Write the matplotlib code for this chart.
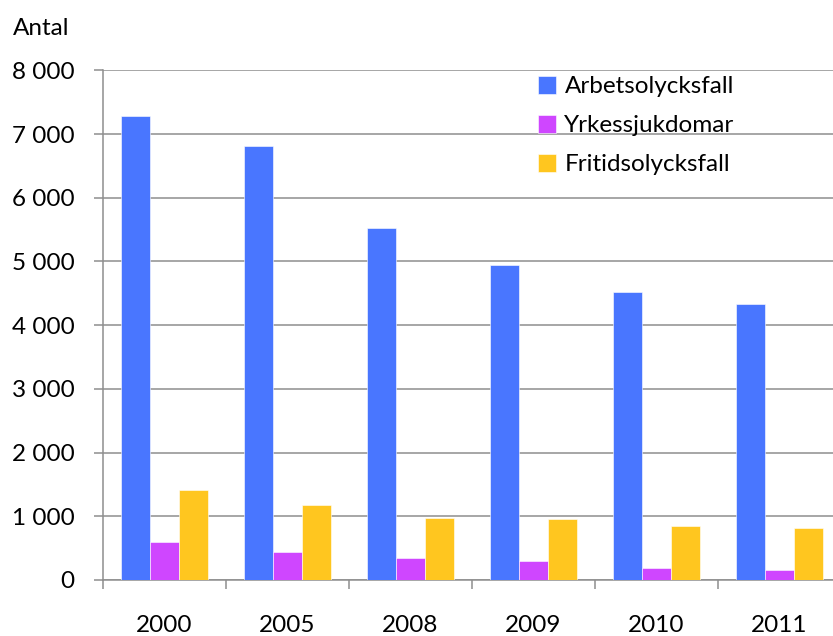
import numpy as np
import matplotlib
matplotlib.use("Agg")
import matplotlib.pyplot as plt
from matplotlib.ticker import FuncFormatter

# data
years = ["2000", "2005", "2008", "2009", "2010", "2011"]
arbetsolycksfall = [7280, 6810, 5520, 4940, 4520, 4330]
yrkessjukdomar = [590, 442, 353, 295, 185, 153]
fritidsolycksfall = [1410, 1173, 968, 962, 847, 815]

series_names = ["Arbetsolycksfall", "Yrkessjukdomar", "Fritidsolycksfall"]
colors = ["#4976FF", "#CF46FF", "#FFC61F"]
grid_col = "#8E8E8E"

plt.rcParams['font.family'] = ['Lato', 'DejaVu Sans']
fs = 17.5

fig = plt.figure(figsize=(8.33, 6.36), dpi=100)
W, H = 833, 636
ax = fig.add_axes([103 / W, (H - 580) / H, 738 / W, (580 - 70.3) / H])

x = np.arange(len(years))
w = 0.236
for k, vals in enumerate([arbetsolycksfall, yrkessjukdomar, fritidsolycksfall]):
    ax.bar(x + (k - 1) * w, vals, w, color=colors[k], label=series_names[k],
           edgecolor="white", linewidth=0.4, zorder=3)

ax.set_xlim(-0.5, len(years) - 0.5)
ax.set_ylim(0, 8000)
ax.set_yticks(np.arange(0, 8001, 1000))
ax.yaxis.set_major_formatter(FuncFormatter(lambda v, p: f"{int(v):,}".replace(",", " ")))
ax.yaxis.grid(True, color=grid_col, linewidth=1.1, zorder=0)
ax.set_axisbelow(True)

ax.set_xticks(x)
ax.set_xticklabels(years)
ax.set_xticks(np.arange(-0.5, len(years)), minor=True)
ax.tick_params(axis='x', which='major', length=0, pad=25, labelsize=fs)
ax.tick_params(axis='x', which='minor', length=6.5, width=1.1, color=grid_col, direction='out')
ax.tick_params(axis='y', length=6.5, width=1.1, color=grid_col, pad=14, labelsize=fs)

for side in ["top", "right"]:
    ax.spines[side].set_visible(False)
for side in ["left", "bottom"]:
    ax.spines[side].set_color(grid_col)
    ax.spines[side].set_linewidth(1.1)

leg = ax.legend(loc='upper left', bbox_to_anchor=(425 / 738, 1.0 + 4 / 509.7),
                frameon=False, fontsize=fs, handlelength=0.75, handleheight=0.75,
                handletextpad=0.35, labelspacing=0.72, borderaxespad=0)

fig.text(13 / W, 1 - 35 / H, "Antal", fontsize=fs, va='baseline', ha='left')

fig.savefig("out.png", dpi=100)
